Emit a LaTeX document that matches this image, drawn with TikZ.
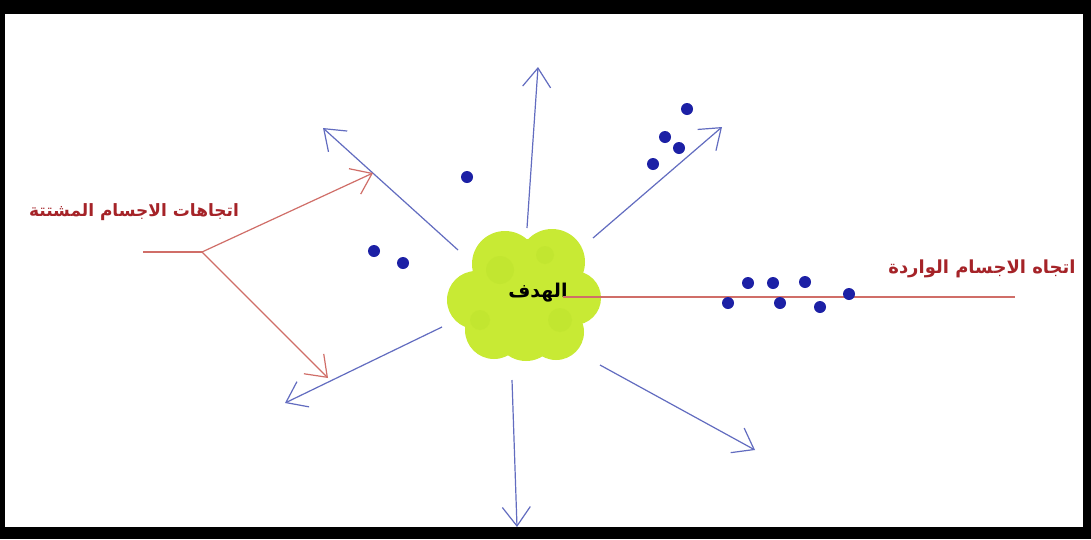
\documentclass[tikz,border=0pt]{standalone}
\usepackage{fontspec}
\usepackage{tikz}
\usetikzlibrary{arrows.meta}
\usetikzlibrary{positioning}
\newfontfamily\arabicfont[Script=Arabic]{DejaVu Sans}
\TeXXeTstate=1
\definecolor{outblue}{RGB}{98,108,192}
\definecolor{dotblue}{RGB}{28,32,165}
\definecolor{labelred}{RGB}{165,35,40}
\definecolor{linered}{RGB}{208,110,104}
\definecolor{targetgreen}{RGB}{200,234,52}
\definecolor{patchgreen}{RGB}{180,220,40}

\begin{document}
\begin{tikzpicture}[x=1pt, y=-1pt,
    scattered/.style={outblue, line width=1.2pt,
        -{Straight Barb[length=19pt, width=28pt, line width=1.2pt]}},
    pointer/.style={linered, line width=1.2pt,
        -{Straight Barb[length=19pt, width=28pt, line width=1.2pt]}},
    particle/.style={circle, fill=dotblue, inner sep=0pt, minimum size=12pt},
    caption/.style={labelred, font=\arabicfont\bfseries\fontsize{17}{19}\selectfont}]
    \useasboundingbox (0,0) rectangle (1091,539);
    % Frame
    \fill[black] (0,0) rectangle (1091,539);
    \fill[white] (5,14) rectangle (1083,527);

    % Outgoing directions: start at the target, end at the tip
    \coordinate (up-s)  at (527,228);  \coordinate (up-t)  at (538,67);
    \coordinate (ul-s)  at (458,250);  \coordinate (ul-t)  at (323,128);
    \coordinate (ur-s)  at (593,238);  \coordinate (ur-t)  at (722,127);
    \coordinate (ll-s)  at (442,327);  \coordinate (ll-t)  at (285,403);
    \coordinate (dn-s)  at (512,380);  \coordinate (dn-t)  at (517,527);
    \coordinate (lr-s)  at (600,365);  \coordinate (lr-t)  at (755,450);
    \foreach \d in {up,ul,ur,ll,dn,lr}
        \draw[scattered] (\d-s) -- (\d-t);

    % Target
    \begin{scope}[targetgreen]
        \fill (528,295) circle (56);
        \fill (505,264) circle (33);
        \fill (552,262) circle (33);
        \fill (476,300) circle (29);
        \fill (574,298) circle (27);
        \fill (494,330) circle (29);
        \fill (556,332) circle (28);
        \fill (526,330) circle (31);
    \end{scope}
    \begin{scope}[patchgreen, opacity=0.25]
        \fill (500,270) circle (14);
        \fill (560,320) circle (12);
        \fill (480,320) circle (10);
        \fill (545,255) circle (9);
    \end{scope}
    \node[font=\arabicfont\bfseries\fontsize{19}{21}\selectfont] (target) at (538,293) {\beginR الهدف\endR};

    % Incoming line
    \coordinate (in-e) at (1015,297);
    \draw[linered, line width=1.2pt] ([xshift=-8pt]target.east |- in-e) -- (in-e);
    \node[caption, font=\arabicfont\bfseries\fontsize{18}{20}\selectfont] (incoming) at (982,269) {\beginR اتجاه الاجسام الواردة\endR};

    % Scattered label with its two pointers
    \node[caption] (scatter) at (134,212) {\beginR اتجاهات الاجسام المشتتة\endR};
    \coordinate (tail) at (143,252);
    \coordinate (fork) at (202,252);
    \coordinate (pt-a) at (373,173);
    \coordinate (pt-b) at (328,378);
    \draw[linered, line width=1.2pt] (tail) -- (fork);
    \draw[pointer] (fork) -- (pt-a);
    \draw[pointer] (fork) -- (pt-b);

    % Particles
    \foreach \p [count=\i] in {(467,177),(374,251),(403,263),
                               (687,109),(665,137),(679,148),(653,164),
                               (728,303),(748,283),(773,283),(780,303),
                               (805,282),(820,307),(849,294)}
        \node[particle] (p\i) at \p {};
\end{tikzpicture}
\end{document}
